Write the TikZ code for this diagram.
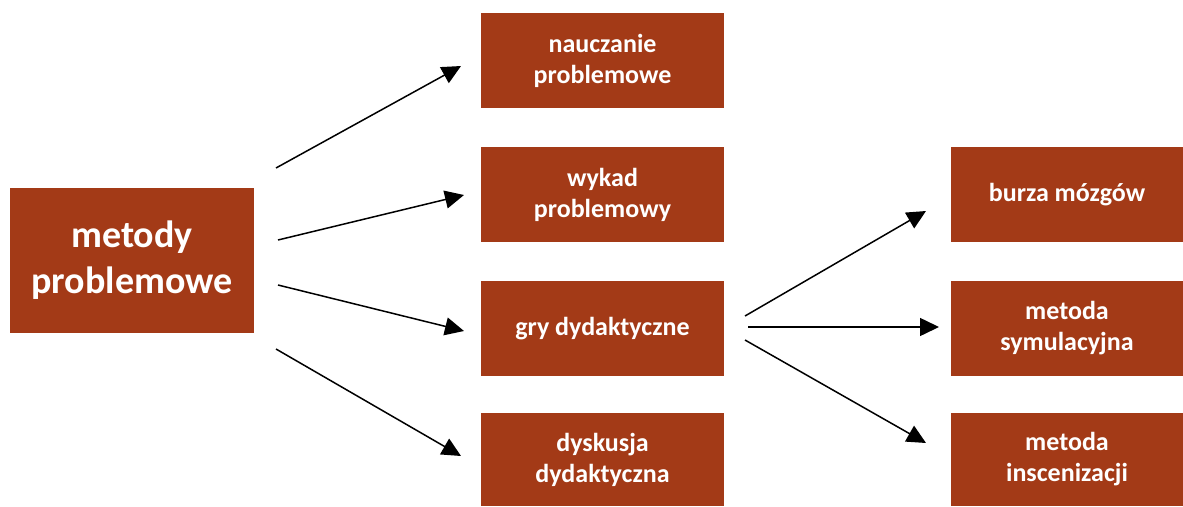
\documentclass[tikz,border=0pt]{standalone}
\usepackage{fontspec}
\setmainfont{Carlito}
\usetikzlibrary{arrows.meta}
\definecolor{boxred}{HTML}{A33A17}
\tikzset{
  box/.style={fill=boxred, text=white, align=center, inner sep=0pt,
    font=\fontsize{26}{31}\selectfont\bfseries},
  bigbox/.style={box, font=\fontsize{38}{46}\selectfont\bfseries},
  link/.style={line width=1.5pt, -{Triangle[length=19pt,width=18pt]}},
}
\begin{document}
\begin{tikzpicture}[x=1pt,y=-1pt]
\useasboundingbox (0,0) rectangle (1183,506);
% root
\node[bigbox, minimum width=244pt, minimum height=145pt] (root) at (132,260.5) {metody\\problemowe};
% middle column
\node[box, minimum width=243pt, minimum height=95pt] (m1) at (602.5,60.5) {nauczanie\\problemowe};
\node[box, minimum width=243pt, minimum height=95pt] (m2) at (602.5,194.5) {wykad\\problemowy};
\node[box, minimum width=243pt, minimum height=95pt] (m3) at (602.5,328.5) {gry dydaktyczne};
\node[box, minimum width=243pt, minimum height=93pt] (m4) at (602.5,459.5) {dyskusja\\dydaktyczna};
% right column
\node[box, minimum width=232pt, minimum height=95pt] (r1) at (1067,194.5) {burza mózgów};
\node[box, minimum width=232pt, minimum height=95pt] (r2) at (1067,328.5) {metoda\\symulacyjna};
\node[box, minimum width=232pt, minimum height=93pt] (r3) at (1067,459.5) {metoda\\inscenizacji};
% arrow ends
\coordinate (a1s) at (276,168); \coordinate (a1e) at (461,66);
\coordinate (a2s) at (278,240); \coordinate (a2e) at (464,195);
\coordinate (a3s) at (278,285); \coordinate (a3e) at (464,331);
\coordinate (a4s) at (276,349); \coordinate (a4e) at (461,456);
\coordinate (b1s) at (745,316); \coordinate (b1e) at (926,211);
\coordinate (b2s) at (748,327); \coordinate (b2e) at (939,327);
\coordinate (b3s) at (745,340); \coordinate (b3e) at (926,443);
\draw[link] (a1s) -- (a1e);
\draw[link] (a2s) -- (a2e);
\draw[link] (a3s) -- (a3e);
\draw[link] (a4s) -- (a4e);
\draw[link] (b1s) -- (b1e);
\draw[link] (b2s) -- (b2e);
\draw[link] (b3s) -- (b3e);
\end{tikzpicture}
\end{document}
